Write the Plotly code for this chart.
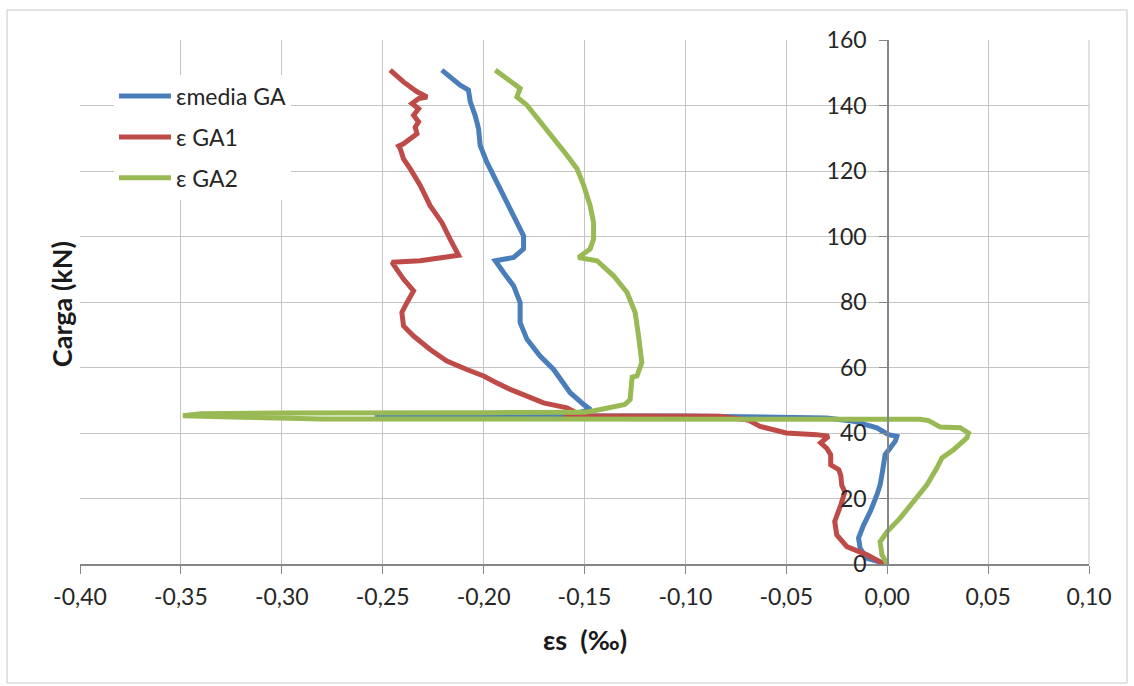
import plotly.graph_objects as go

# ---------------- data ----------------
media_x = [0.0, -0.0010, -0.0100, -0.0134, -0.0142, -0.0117, -0.0084, -0.0051, -0.0035, -0.0026,
           -0.0018, -0.0010, 0.0015, 0.0040, 0.0048, 0.0007, -0.0051, -0.0117, -0.0167, -0.0300,
           -0.1000, -0.2000, -0.2540, -0.2000, -0.1550, -0.1470, -0.1500, -0.1571, -0.1653, -0.1720,
           -0.1785, -0.1819, -0.1819, -0.1851, -0.1901, -0.1942, -0.1851, -0.1802, -0.1802, -0.1835,
           -0.1884, -0.1934, -0.1984, -0.2017, -0.2025, -0.2042, -0.2066, -0.2075, -0.2116, -0.2207]
media_y = [0.0, 0.2, 1.7, 4.8, 7.9, 11.9, 16.0, 21.1, 24.2, 27.3,
           30.3, 33.4, 35.4, 37.5, 39.0, 39.5, 41.6, 42.8, 43.6, 44.6,
           45.2, 45.3, 45.3, 45.4, 45.8, 47.2, 48.5, 52.3, 59.4, 63.5,
           68.6, 73.7, 79.8, 84.9, 89.0, 92.6, 93.6, 96.2, 100.2, 104.3,
           110.5, 116.6, 122.7, 127.8, 132.9, 137.0, 141.1, 144.7, 146.2, 150.8]

ga1_x = [0.0, -0.0020, -0.0100, -0.0200, -0.0250, -0.0260, -0.0230, -0.0210, -0.0225, -0.0230,
         -0.0240, -0.0280, -0.0280, -0.0300, -0.0330, -0.0290, -0.0350, -0.0500, -0.0630, -0.0690,
         -0.0830, -0.1200, -0.1600, -0.1550, -0.1587, -0.1703, -0.1785, -0.1868, -0.1934, -0.2000,
         -0.2083, -0.2182, -0.2265, -0.2347, -0.2397, -0.2405, -0.2380, -0.2347, -0.2397, -0.2454,
         -0.2314, -0.2124, -0.2166, -0.2190, -0.2207, -0.2265, -0.2314, -0.2364, -0.2397, -0.2413,
         -0.2421, -0.2397, -0.2355, -0.2330, -0.2339, -0.2322, -0.2347, -0.2322, -0.2355, -0.2322,
         -0.2280, -0.2330, -0.2397, -0.2463]
ga1_y = [0.0, 0.2, 2.8, 5.3, 8.9, 13.0, 18.0, 22.0, 24.0, 27.0,
         28.8, 30.3, 33.4, 35.4, 37.0, 39.0, 39.5, 40.0, 42.0, 44.0,
         45.1, 45.2, 45.3, 46.5, 47.7, 49.2, 51.2, 53.3, 55.3, 57.4,
         59.4, 62.0, 65.5, 69.6, 72.7, 76.8, 79.8, 83.4, 87.0, 92.1,
         92.6, 94.3, 99.2, 102.3, 104.3, 109.4, 115.6, 120.7, 123.7, 126.8,
         127.6, 128.3, 130.4, 131.4, 133.4, 135.0, 137.0, 139.0, 140.6, 142.1,
         142.6, 144.2, 147.2, 150.8]

ga2_x = [0.0, -0.0026, -0.0035, 0.0000, 0.0064, 0.0131, 0.0197, 0.0246, 0.0271, 0.0329,
         0.0395, 0.0403, 0.0362, 0.0263, 0.0205, 0.0164, -0.1000, -0.2000, -0.2800, -0.3200,
         -0.3490, -0.3400, -0.3000, -0.2000, -0.1500, -0.1420, -0.1300, -0.1274, -0.1264, -0.1240,
         -0.1216, -0.1232, -0.1249, -0.1289, -0.1356, -0.1438, -0.1530, -0.1472, -0.1455, -0.1455,
         -0.1472, -0.1504, -0.1537, -0.1587, -0.1653, -0.1720, -0.1785, -0.1835, -0.1819, -0.1884,
         -0.1942]
ga2_y = [0.0, 2.8, 6.8, 9.9, 14.0, 19.1, 24.2, 29.3, 32.4, 34.9,
         38.5, 40.0, 41.6, 41.8, 43.8, 44.2, 44.1, 44.1, 44.3, 44.8,
         45.3, 45.9, 46.1, 46.2, 46.3, 47.2, 48.7, 50.2, 57.0, 57.4,
         61.5, 69.6, 76.8, 82.9, 88.0, 92.6, 93.6, 96.2, 99.2, 104.3,
         109.4, 115.6, 120.7, 124.8, 129.9, 135.0, 140.1, 142.6, 145.2, 148.2,
         150.8]

series_names = ["\u03b5media GA", "\u03b5 GA1", "\u03b5 GA2"]
series_colors = ["#4a7ebb", "#be4b48", "#98b954"]

x_tickvals = [-0.40, -0.35, -0.30, -0.25, -0.20, -0.15, -0.10, -0.05, 0.00, 0.05, 0.10]
x_ticktext = ["-0,40", "-0,35", "-0,30", "-0,25", "-0,20", "-0,15", "-0,10", "-0,05", "0,00", "0,05", "0,10"]
y_tickvals = [0, 20, 40, 60, 80, 100, 120, 140, 160]
y_ticktext = ["0", "20", "40", "60", "80", "100", "120", "140", "160"]

FONT = "Lato, 'Open Sans', sans-serif"
TXT = "#262626"

fig = go.Figure()
for i, (xs, ys) in enumerate([(media_x, media_y), (ga1_x, ga1_y), (ga2_x, ga2_y)]):
    fig.add_trace(go.Scatter(
        x=xs, y=ys, mode="lines", name=series_names[i], legendgroup=f"g{i}",
        line=dict(color=series_colors[i], width=5, shape="linear"),
    ))

fig.update_layout(
    width=1134, height=686,
    margin=dict(l=80, r=45, t=40, b=122),
    paper_bgcolor="white", plot_bgcolor="white",
    font=dict(family=FONT, size=22, color=TXT),
    showlegend=True,
    legend=dict(
        x=0.0337, y=0.934, xanchor="left", yanchor="top",
        bgcolor="white", borderwidth=0,
        font=dict(family=FONT, size=23, color=TXT),
        tracegroupgap=8, traceorder="grouped", itemwidth=52,
    ),
    xaxis=dict(
        range=[-0.40, 0.10], tickvals=x_tickvals, ticktext=x_ticktext,
        showgrid=True, gridcolor="#c4c4c4", gridwidth=1,
        zeroline=False, showline=True, linecolor="#868686", linewidth=1.5,
        ticks="outside", ticklen=8, tickcolor="#868686",
        tickfont=dict(family=FONT, size=23, color=TXT),
        ticklabelstandoff=4,
        fixedrange=True,
    ),
    yaxis=dict(
        range=[0, 160], tickvals=y_tickvals, ticktext=y_ticktext,
        anchor="free", position=0.8,
        showgrid=True, gridcolor="#c4c4c4", gridwidth=1,
        zeroline=False, showline=True, linecolor="#868686", linewidth=1.5,
        ticks="outside", ticklen=8, tickcolor="#868686",
        tickfont=dict(family=FONT, size=23, color=TXT),
        ticklabelstandoff=8,
        fixedrange=True,
    ),
    annotations=[
        dict(text="<b>Carga (kN)</b>", xref="paper", yref="paper", x=-0.0188, y=0.496,
             xanchor="center", yanchor="middle",
             textangle=-90, showarrow=False, font=dict(family=FONT, size=27, color="#1a1a1a")),
        dict(text="<b>\u03b5s  (\u2030)</b>", xref="paper", yref="paper", x=0.5005, y=-0.145,
             xanchor="center", yanchor="middle",
             showarrow=False, font=dict(family=FONT, size=27, color="#1a1a1a")),
    ],
    shapes=[
        dict(type="line", xref="paper", yref="paper", x0=1.0, x1=1.0, y0=0, y1=1,
             line=dict(color="#c4c4c4", width=1)),
        dict(type="rect", xref="paper", yref="paper", x0=-0.0723, x1=1.0377, y0=-0.2271, y1=1.0573,
             line=dict(color="#c8c8c8", width=1)),
    ],
)

fig.write_html(
    "out.html",
    config={"displayModeBar": False, "staticPlot": True},
    post_script="document.body.style.margin='0';document.body.style.overflow='hidden';",
)
